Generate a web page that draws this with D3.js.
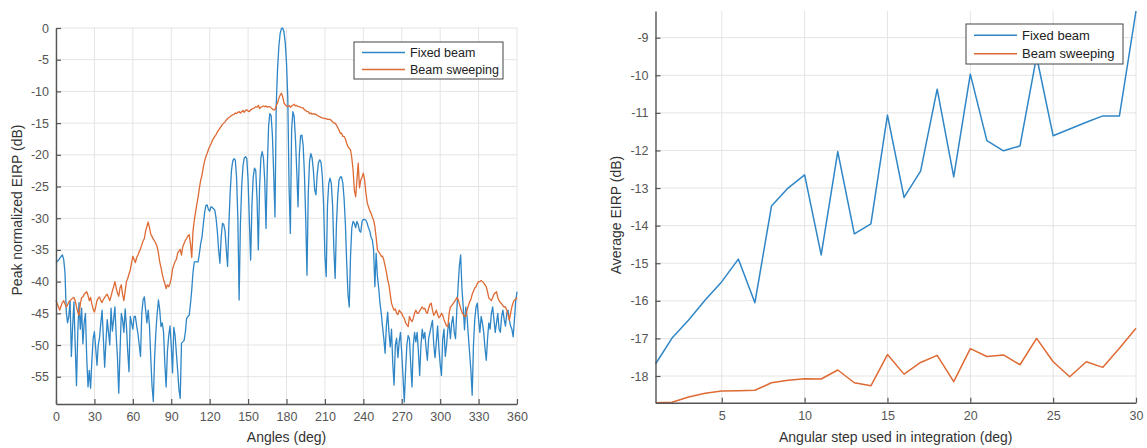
<!DOCTYPE html>
<html>
<head>
<meta charset="utf-8">
<script src="https://cdn.jsdelivr.net/npm/d3@7"></script>
<style>
  body { margin: 0; background: #fff; }
  text { font-family: "Liberation Sans", Arial, sans-serif; }
</style>
</head>
<body>
<div id="chart"></div>
<script>
// ---- left panel: EIRP pattern vs angle (1 deg steps, 0..360)
const angles = d3.range(0, 361);
const fixedBeamPattern = [
  -37.1,-36.8,-36.6,-36.3,-36.0,-35.8,-36.5,-38.5,-44.7,-46.5,
  -45.5,-43.0,-51.8,-47.0,-43.2,-50.0,-56.4,-48.0,-43.3,-47.5,
  -44.2,-49.8,-46.5,-45.0,-52.0,-56.6,-54.0,-56.8,-52.5,-49.0,
  -47.9,-50.5,-53.2,-50.0,-48.8,-46.5,-44.5,-49.0,-53.5,-49.5,
  -46.0,-48.0,-50.0,-44.2,-47.8,-46.0,-44.0,-48.5,-52.0,-57.6,
  -51.0,-45.0,-46.0,-48.0,-44.3,-47.0,-51.0,-54.2,-45.5,-46.5,
  -47.5,-45.5,-45.5,-47.0,-48.2,-50.0,-51.8,-45.0,-42.9,-42.4,
  -44.5,-46.5,-44.5,-47.0,-52.0,-56.5,-58.9,-52.0,-47.9,-45.0,
  -42.9,-44.5,-47.1,-46.5,-48.0,-53.0,-56.6,-51.0,-48.6,-47.0,
  -50.0,-54.4,-47.2,-48.5,-51.3,-54.0,-57.0,-58.4,-49.7,-49.5,
  -49.3,-48.0,-45.8,-45.5,-45.3,-43.5,-41.3,-38.5,-36.9,-36.9,
  -36.9,-36.9,-35.5,-34.0,-33.0,-31.0,-29.2,-28.0,-27.9,-28.6,
  -28.9,-28.2,-28.3,-28.5,-28.7,-30.0,-32.1,-35.0,-37.1,-33.0,
  -30.8,-31.0,-32.0,-35.0,-37.6,-31.0,-26.0,-22.5,-21.0,-20.6,
  -20.8,-23.5,-30.0,-42.9,-31.0,-25.0,-21.8,-20.5,-20.3,-20.6,
  -24.0,-30.5,-36.6,-28.0,-23.5,-22.1,-22.5,-27.0,-35.0,-25.0,
  -20.5,-19.5,-20.5,-24.0,-31.6,-22.0,-15.5,-13.5,-13.8,-17.0,
  -23.0,-29.8,-12.0,-6.5,-3.0,-0.9,-0.1,0.0,-0.6,-2.3,
  -5.5,-11.0,-25.0,-32.4,-16.0,-13.2,-14.0,-17.5,-22.5,-28.2,
  -20.0,-17.0,-16.9,-18.5,-23.0,-30.0,-39.0,-26.0,-21.0,-19.8,
  -20.5,-22.5,-25.5,-26.3,-23.0,-21.2,-20.8,-21.2,-23.5,-28.0,
  -36.0,-39.2,-28.0,-24.5,-23.7,-24.5,-28.0,-35.0,-39.5,-31.0,
  -26.5,-24.0,-23.5,-23.5,-24.5,-27.0,-31.0,-37.0,-42.0,-44.0,
  -36.0,-31.5,-30.5,-30.8,-31.5,-30.5,-31.0,-32.0,-32.2,-30.5,
  -30.2,-30.2,-30.3,-30.8,-31.5,-32.0,-33.0,-33.4,-35.0,-40.8,
  -35.5,-39.2,-41.0,-43.4,-45.0,-47.1,-49.0,-51.3,-47.0,-44.8,
  -48.0,-50.3,-47.5,-53.0,-56.3,-50.0,-48.9,-52.0,-49.5,-48.0,
  -51.3,-55.0,-59.0,-54.0,-50.0,-48.5,-49.0,-53.0,-56.6,-50.0,
  -48.0,-49.5,-48.0,-51.0,-54.8,-50.0,-47.5,-49.0,-48.0,-50.5,
  -52.4,-49.0,-48.0,-47.0,-46.1,-50.0,-52.0,-49.5,-47.0,-50.5,
  -53.0,-54.8,-49.0,-47.5,-51.8,-50.0,-47.5,-46.5,-49.0,-46.5,
  -45.5,-48.0,-49.0,-44.5,-40.8,-37.5,-35.8,-41.0,-44.0,-47.6,
  -44.0,-45.5,-48.5,-51.3,-54.0,-57.9,-50.0,-46.0,-44.0,-43.4,
  -46.0,-48.0,-45.5,-46.5,-48.0,-50.5,-52.4,-49.0,-46.5,-47.5,
  -45.0,-44.0,-46.0,-48.0,-46.5,-45.0,-47.5,-48.0,-45.5,-44.5,
  -46.0,-47.0,-45.0,-44.5,-46.0,-47.0,-47.5,-48.7,-46.0,-43.0,
  -41.6
];
const sweepPattern = [
  -42.9,-43.5,-44.0,-44.5,-43.8,-43.3,-43.0,-43.5,-44.0,-43.7,
  -43.2,-43.0,-42.8,-42.6,-42.5,-43.0,-44.0,-44.8,-45.3,-43.5,
  -42.5,-42.4,-42.0,-41.8,-41.6,-42.2,-43.0,-42.5,-43.5,-44.3,
  -44.8,-44.0,-43.0,-42.6,-42.4,-43.0,-43.3,-42.8,-42.5,-42.2,
  -42.0,-42.5,-43.0,-42.3,-41.5,-40.8,-40.0,-41.0,-41.8,-42.3,
  -41.0,-40.5,-42.0,-43.0,-41.5,-40.0,-39.5,-38.8,-38.2,-37.0,
  -36.0,-36.5,-37.0,-36.2,-35.8,-35.3,-34.8,-34.2,-33.6,-33.2,
  -32.0,-31.3,-30.6,-31.5,-32.5,-32.9,-33.3,-33.6,-34.0,-34.5,
  -35.5,-36.9,-37.8,-38.8,-39.7,-40.3,-41.1,-40.5,-40.8,-40.3,
  -39.5,-38.0,-37.4,-36.8,-36.5,-35.5,-35.2,-34.9,-35.8,-34.5,
  -34.0,-33.5,-33.2,-32.8,-32.6,-34.0,-36.2,-32.0,-30.3,-29.0,
  -27.8,-26.6,-25.2,-24.0,-23.2,-22.0,-21.0,-20.3,-19.8,-19.2,
  -18.7,-18.3,-17.8,-17.4,-17.1,-16.8,-16.4,-16.1,-15.8,-15.5,
  -15.2,-15.0,-14.8,-14.5,-14.3,-14.1,-14.0,-13.8,-13.7,-13.6,
  -13.4,-13.5,-13.3,-13.2,-13.4,-13.2,-13.0,-13.3,-13.0,-12.9,
  -13.1,-13.2,-12.9,-12.8,-12.7,-12.6,-12.4,-12.5,-12.2,-12.7,
  -12.5,-12.4,-12.3,-12.4,-12.3,-12.5,-12.4,-12.4,-12.6,-12.8,
  -12.9,-12.9,-12.3,-11.8,-11.1,-10.6,-10.3,-10.8,-11.8,-12.1,
  -12.3,-12.4,-12.2,-12.5,-12.3,-12.2,-12.0,-12.3,-12.2,-12.4,
  -12.4,-12.5,-12.6,-12.6,-12.9,-13.0,-13.2,-13.2,-13.5,-13.4,
  -13.6,-13.5,-13.6,-13.6,-13.8,-13.9,-14.0,-14.1,-14.2,-14.2,
  -14.3,-14.3,-14.4,-14.4,-14.4,-14.6,-14.8,-15.0,-15.0,-15.3,
  -15.7,-16.1,-16.6,-16.6,-17.1,-17.1,-17.5,-18.2,-18.7,-19.0,
  -19.2,-20.5,-22.4,-25.6,-26.6,-24.0,-21.3,-25.2,-24.0,-23.5,
  -22.9,-24.0,-26.0,-27.5,-28.2,-28.8,-29.2,-29.8,-30.3,-31.3,
  -33.0,-35.0,-35.3,-35.6,-36.0,-36.0,-36.6,-37.5,-38.5,-39.7,
  -40.5,-42.0,-43.4,-44.0,-44.5,-44.3,-45.0,-45.2,-44.5,-44.8,
  -45.0,-45.5,-45.8,-46.5,-46.8,-47.1,-45.5,-46.0,-46.3,-45.8,
  -45.0,-44.5,-45.0,-45.0,-44.6,-44.3,-44.0,-44.3,-44.2,-44.8,
  -45.0,-44.2,-43.6,-43.4,-44.5,-45.3,-45.0,-44.5,-45.2,-45.7,
  -45.5,-45.0,-45.3,-46.0,-46.5,-47.0,-47.1,-45.0,-44.0,-43.8,
  -43.5,-43.2,-42.9,-42.5,-42.8,-43.5,-44.2,-44.8,-45.2,-45.5,
  -45.5,-44.5,-43.8,-43.2,-42.8,-42.0,-41.5,-41.0,-40.8,-40.3,
  -40.0,-40.0,-39.8,-40.0,-40.2,-40.5,-40.8,-41.6,-42.6,-42.8,
  -43.0,-42.5,-42.0,-41.8,-41.6,-42.5,-43.0,-43.3,-43.5,-43.8,
  -44.0,-44.0,-44.5,-45.2,-46.1,-45.0,-44.0,-43.3,-42.9,-42.8,
  -42.5
];
const angleTicks = [0, 30, 60, 90, 120, 150, 180, 210, 240, 270, 300, 330, 360];
const peakTicks = [0, -5, -10, -15, -20, -25, -30, -35, -40, -45, -50, -55];

// ---- right panel: average EIRP vs angular step
const steps = d3.range(1, 31);
const fixedBeamAvg = [
  -17.68,-16.99,-16.51,-15.98,-15.49,-14.89,-16.05,-13.48,-13.00,-12.65,
  -14.78,-12.03,-14.22,-13.95,-11.06,-13.25,-12.55,-10.37,-12.70,-9.97,
  -11.74,-12.01,-11.88,-9.50,-11.61,-11.43,-11.25,-11.08,-11.08,-8.29
];
const sweepAvg = [
  -18.71,-18.70,-18.56,-18.46,-18.40,-18.39,-18.38,-18.18,-18.11,-18.07,
  -18.08,-17.84,-18.18,-18.26,-17.43,-17.95,-17.64,-17.45,-18.15,-17.27,
  -17.48,-17.44,-17.70,-17.00,-17.62,-18.02,-17.62,-17.77,-17.26,-16.73
];
const stepTicks = [5, 10, 15, 20, 25, 30];
const avgTicks = [-9, -10, -11, -12, -13, -14, -15, -16, -17, -18];

const seriesNames = ["Fixed beam", "Beam sweeping"];
const colors = ["#2f86c6", "#de6a34"];

const svg = d3.select("#chart").append("svg")
  .attr("width", 1147)
  .attr("height", 448);

function drawPanel(opt) {
  const x = d3.scaleLinear().domain(opt.xDomain).range([opt.left, opt.right]);
  const y = d3.scaleLinear().domain(opt.yDomain).range([opt.bottom, opt.top]);
  const g = svg.append("g");

  // grid
  g.append("g")
    .selectAll("line.vg")
    .data(opt.xTicks)
    .join("line")
    .attr("x1", d => x(d)).attr("x2", d => x(d))
    .attr("y1", opt.top).attr("y2", opt.bottom)
    .attr("stroke", "#e4e4e4").attr("stroke-width", 1);
  g.append("g")
    .selectAll("line.hg")
    .data(opt.yTicks)
    .join("line")
    .attr("x1", opt.left).attr("x2", opt.right)
    .attr("y1", d => y(d)).attr("y2", d => y(d))
    .attr("stroke", "#e4e4e4").attr("stroke-width", 1);

  // lines
  const line = d3.line()
    .x((d, i) => x(opt.xs[i]))
    .y(d => y(d));
  opt.series.forEach((s, i) => {
    g.append("path")
      .datum(s)
      .attr("fill", "none")
      .attr("stroke", colors[i])
      .attr("stroke-width", opt.lineWidth)
      .attr("stroke-linejoin", "round")
      .attr("d", line);
  });

  // axes with inward ticks, plain hyphen minus like the original
  const fmt = d => String(d);
  const xAxis = d3.axisBottom(x).tickValues(opt.xTicks).tickFormat(fmt).tickSize(-5).tickSizeOuter(0).tickPadding(8);
  const yAxis = d3.axisLeft(y).tickValues(opt.yTicks).tickFormat(fmt).tickSize(-5).tickSizeOuter(0).tickPadding(7);

  const gx = g.append("g")
    .attr("transform", `translate(0, ${opt.bottom})`)
    .call(xAxis);
  const gy = g.append("g")
    .attr("transform", `translate(${opt.left}, 0)`)
    .call(yAxis);
  [gx, gy].forEach(a => {
    a.select(".domain").attr("stroke", "#555").attr("stroke-width", 1.4);
    a.selectAll(".tick line").attr("stroke", "#555").attr("stroke-width", 1.2);
    a.selectAll(".tick text").attr("fill", "#555").style("font-size", "12.5px");
  });

  g.append("text")
    .attr("x", (opt.left + opt.right) / 2)
    .attr("y", 442)
    .attr("text-anchor", "middle")
    .attr("fill", "#333")
    .style("font-size", "14px")
    .text(opt.xLabel);
  g.append("text")
    .attr("transform", `translate(${opt.yLabelX}, ${opt.yLabelY}) rotate(-90)`)
    .attr("text-anchor", "middle")
    .attr("fill", "#333")
    .style("font-size", "14px")
    .text(opt.yLabel);

  // legend
  const lg = g.append("g").attr("transform", `translate(${opt.legend.x}, ${opt.legend.y})`);
  lg.append("rect")
    .attr("width", opt.legend.w).attr("height", opt.legend.h)
    .attr("fill", "#fff").attr("stroke", "#444").attr("stroke-width", 1);
  seriesNames.forEach((name, i) => {
    const cy = opt.legend.h * (0.27 + 0.46 * i) + 0.5;
    lg.append("line")
      .attr("x1", 8).attr("x2", 8 + opt.legend.lineLen)
      .attr("y1", cy).attr("y2", cy)
      .attr("stroke", colors[i]).attr("stroke-width", 1.5);
    lg.append("text")
      .attr("x", 13 + opt.legend.lineLen)
      .attr("y", cy)
      .attr("dy", "0.35em")
      .attr("fill", "#222")
      .style("font-size", opt.legend.fontSize)
      .text(name);
  });
}

drawPanel({
  left: 56, right: 517, top: 28, bottom: 404,
  xDomain: [0, 360], yDomain: [-59.3, 0],
  xs: angles, series: [fixedBeamPattern, sweepPattern],
  xTicks: angleTicks, yTicks: peakTicks, lineWidth: 1.3,
  xLabel: "Angles (deg)", yLabel: "Peak normalized EIRP (dB)",
  yLabelX: 22, yLabelY: 210,
  legend: { x: 354, y: 42, w: 149, h: 37, lineLen: 43, fontSize: "12.5px" }
});

drawPanel({
  left: 655.5, right: 1136, top: 11, bottom: 402.7,
  xDomain: [1, 30], yDomain: [-18.71, -8.29],
  xs: steps, series: [fixedBeamAvg, sweepAvg],
  xTicks: stepTicks, yTicks: avgTicks, lineWidth: 1.5,
  xLabel: "Angular step used in integration (deg)", yLabel: "Average EIRP (dB)",
  yLabelX: 621, yLabelY: 215,
  legend: { x: 966, y: 24, w: 157, h: 40, lineLen: 43, fontSize: "13px" }
});
</script>
</body>
</html>
